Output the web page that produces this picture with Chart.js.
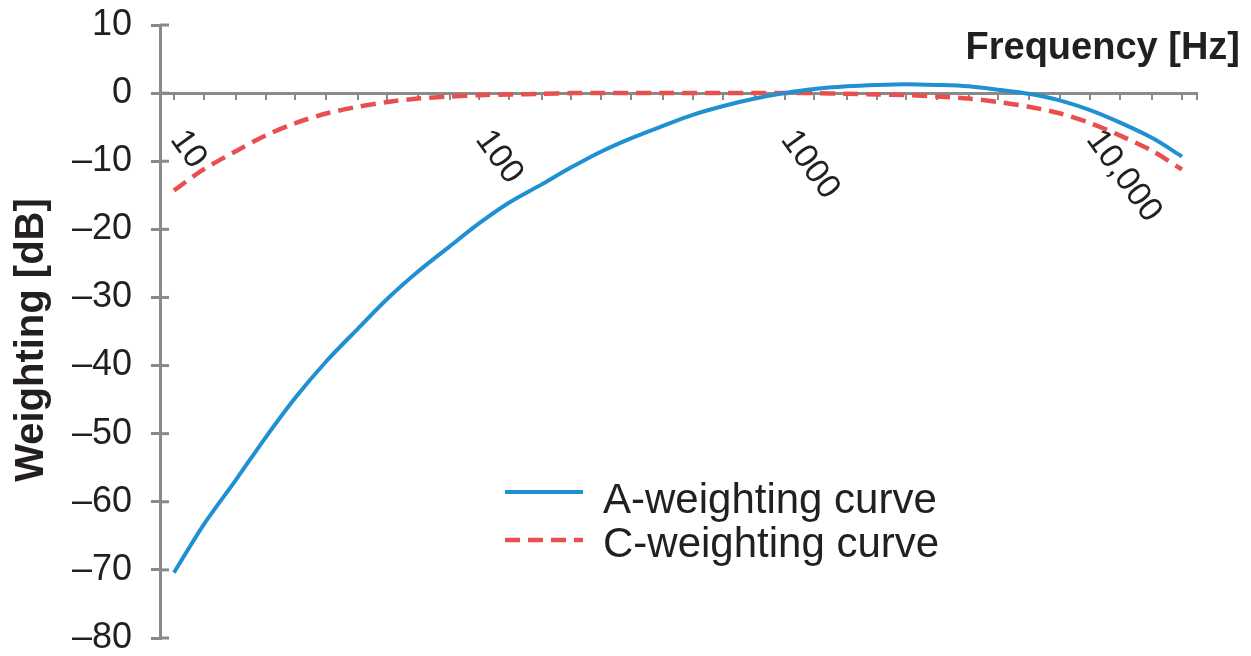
<!DOCTYPE html>
<html>
<head>
<meta charset="utf-8">
<script src="https://cdn.jsdelivr.net/npm/chart.js@4/dist/chart.umd.min.js"></script>
<style>
html,body{margin:0;padding:0;background:#fff}
#wrap{width:1251px;height:656px}
</style>
</head>
<body>
<div id="wrap"><canvas id="grafico"></canvas></div>
<script>
// 1/3-octave bands
const freqs = [10,12.5,16,20,25,31.5,40,50,63,80,100,125,160,200,250,315,400,500,630,800,1000,1250,1600,2000,2500,3150,4000,5000,6300,8000,10000,12500,16000,20000]
const aWeight = [-70.4,-63.4,-56.7,-50.5,-44.7,-39.4,-34.6,-30.2,-26.2,-22.5,-19.1,-16.1,-13.4,-10.9,-8.6,-6.6,-4.8,-3.2,-1.9,-0.8,0,0.6,1.0,1.2,1.3,1.2,1.0,0.5,-0.1,-1.1,-2.5,-4.3,-6.6,-9.3]
const cWeight = [-14.3,-11.2,-8.5,-6.2,-4.4,-3.0,-2.0,-1.3,-0.8,-0.5,-0.3,-0.2,-0.1,0,0,0,0,0,0,0,0,0,-0.1,-0.2,-0.3,-0.5,-0.8,-1.3,-2.0,-3.0,-4.4,-6.2,-8.5,-11.2]
const seriesNames = ['A-weighting curve','C-weighting curve']
const freqTicks = [10,100,1000,10000]
const freqTickText = ['10','100','1000','10,000']

const fonte = '"Liberation Sans", Arial, sans-serif'
const corEixo = '#8a8a8a', corTexto = '#231f20'
const azul = '#1f90d2', vermelho = '#e94f4f'

const pontos = (vals) => freqs.map((f,i) => ({x:f, y:vals[i]}))

const extras = {
    id: 'extras',
    beforeDatasetsDraw(chart) {
        const {ctx, scales:{x, y}} = chart
        ctx.save()
        ctx.strokeStyle = corEixo
        ctx.lineWidth = 3
        y.ticks.forEach(t => {
            const py = y.getPixelForValue(t.value)
            ctx.beginPath(); ctx.moveTo(x.left, py); ctx.lineTo(x.left + 9, py); ctx.stroke()
        })
        ctx.restore()
    },
    afterDraw(chart) {
        const {ctx, scales:{x, y}} = chart
        const y0 = y.getPixelForValue(0)
        ctx.save()
        ctx.fillStyle = corTexto
        // rotated frequency labels
        ctx.font = '34px ' + fonte
        ctx.textAlign = 'left'
        ctx.textBaseline = 'middle'
        freqTicks.forEach((f,i) => {
            ctx.save()
            ctx.translate(x.getPixelForValue(f) + 3, y0 + 41)
            ctx.rotate(54 * Math.PI/180)
            ctx.fillText(freqTickText[i], 0, 0)
            ctx.restore()
        })
        // axis titles
        ctx.font = 'bold 38px ' + fonte
        ctx.textAlign = 'right'
        ctx.textBaseline = 'alphabetic'
        ctx.fillText('Frequency [Hz]', 1240, 59)
        ctx.save()
        ctx.font = 'bold 40px ' + fonte
        ctx.translate(32, 340)
        ctx.rotate(-Math.PI/2)
        ctx.textAlign = 'center'
        ctx.textBaseline = 'middle'
        ctx.fillText('Weighting [dB]', 0, 0)
        ctx.restore()
        // legend
        ctx.font = '42px ' + fonte
        ctx.textAlign = 'left'
        chart.data.datasets.forEach((ds,i) => {
            const ly = 492 + i*48
            ctx.strokeStyle = ds.borderColor
            ctx.lineWidth = ds.borderWidth
            ctx.setLineDash(ds.borderDash || [])
            ctx.beginPath(); ctx.moveTo(505, ly); ctx.lineTo(583, ly); ctx.stroke()
            ctx.setLineDash([])
            ctx.fillText(ds.label, 603, 513 + i*44)
        })
        ctx.restore()
    }
}

new Chart(document.getElementById('grafico'), {
    type: 'line',
    data: {
        datasets: [{
            label: seriesNames[0],
            data: pontos(aWeight),
            borderColor: azul,
            borderWidth: 4,
            pointRadius: 0,
            tension: 0.3,
            fill: false
        },{
            label: seriesNames[1],
            data: pontos(cWeight),
            borderColor: vermelho,
            borderWidth: 4.5,
            borderDash: [15,8],
            pointRadius: 0,
            tension: 0.3,
            fill: false
        }]
    },
    options: {
        responsive: true,
        maintainAspectRatio: false,
        animation: false,
        layout: {padding: {top: 25, right: 54, bottom: 18, left: 0}},
        plugins: {legend: {display: false}, tooltip: {enabled: false}},
        scales: {
            x: {
                type: 'logarithmic',
                position: {y: 0},
                min: 9,
                max: 22400,
                afterBuildTicks: (s) => { s.ticks = freqs.concat([22400]).map(v => ({value: v})) },
                ticks: {display: false},
                grid: {display: true, drawOnChartArea: false, drawTicks: true, tickLength: 5, color: corEixo, lineWidth: 2},
                border: {display: true, color: corEixo, width: 3}
            },
            y: {
                min: -80,
                max: 10,
                afterFit: (s) => { s.width = 160; s.paddingTop = 0; s.paddingBottom = 0 },
                ticks: {
                    stepSize: 10,
                    padding: 19,
                    color: corTexto,
                    font: {family: fonte, size: 36},
                    callback: (v) => v < 0 ? '\u2013' + Math.abs(v) : String(v)
                },
                grid: {display: true, drawOnChartArea: false, drawTicks: true, tickLength: 9, color: corEixo, lineWidth: 3},
                border: {display: true, color: corEixo, width: 3}
            }
        }
    },
    plugins: [extras]
})
</script>
</body>
</html>
